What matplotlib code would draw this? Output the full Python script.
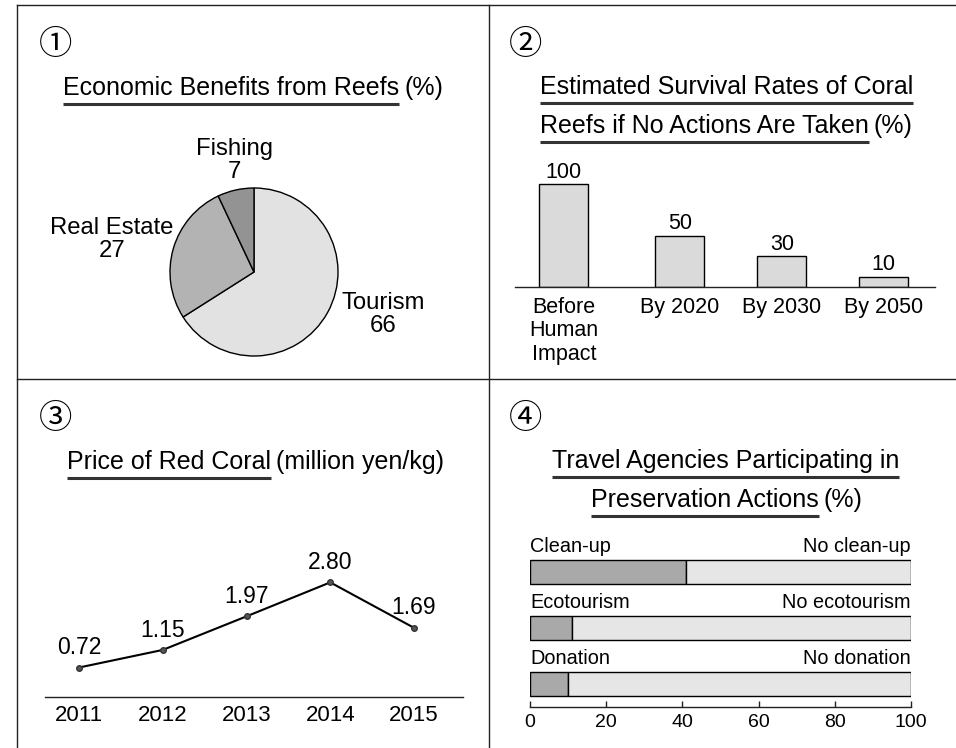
import matplotlib
matplotlib.use('Agg')
import matplotlib.pyplot as plt

plt.rcParams['font.family'] = ['Liberation Sans', 'DejaVu Sans']

# ① 산호초의 경제적 이익 (%)
pie_labels = ['Tourism', 'Real Estate', 'Fishing']
pie_values = [66, 27, 7]

# ② 산호초 생존율 추정 (%)
survival_labels = ['Before\nHuman\nImpact', 'By 2020', 'By 2030', 'By 2050']
survival_values = [100, 50, 30, 10]

# ③ 붉은 산호 가격 (million yen/kg)
years = [2011, 2012, 2013, 2014, 2015]
prices = [0.72, 1.15, 1.97, 2.80, 1.69]

# ④ 보존 활동 참여 여행사 (%)
actions = ['Clean-up', 'Ecotourism', 'Donation']
no_actions = ['No clean-up', 'No ecotourism', 'No donation']
participating = [41, 11, 10]

W, H = 956, 748
LINE = '#222222'
TITLE_SIZE = 18


def px_axes(fig, left, top, width, height):
    # 픽셀 좌표(위에서부터)로 축 생성
    ax = fig.add_axes([left / W, 1 - (top + height) / H, width / W, height / H])
    ax.set_facecolor('none')
    return ax


def title_line(fig, bg, x, baseline, main, suffix=''):
    t = bg.text(x, baseline, main, fontsize=TITLE_SIZE, ha='left', va='baseline')
    renderer = fig.canvas.get_renderer()
    bb = t.get_window_extent(renderer)
    x1 = bg.transData.inverted().transform((bb.x1, bb.y0))[0]
    bg.plot([x, x1], [baseline + 9, baseline + 9], color='#333333',
            lw=2.2, solid_capstyle='butt')
    if suffix:
        bg.text(x1 + 5, baseline, suffix, fontsize=TITLE_SIZE, ha='left', va='baseline')


def only_bottom(ax):
    for side in ['top', 'left', 'right']:
        ax.spines[side].set_visible(False)
    ax.spines['bottom'].set_color(LINE)
    ax.spines['bottom'].set_linewidth(1)
    ax.set_yticks([])


def draw_frame(fig):
    bg = fig.add_axes([0, 0, 1, 1])
    bg.set_xlim(0, W)
    bg.set_ylim(H, 0)
    bg.axis('off')
    kw = dict(color=LINE, lw=1)
    bg.plot([17, W], [5, 5], **kw)
    bg.plot([17, 17], [5, H], **kw)
    bg.plot([489.5, 489.5], [5, H], **kw)
    bg.plot([17, W], [379, 379], **kw)
    for sym, x, y in [('①', 56, 44), ('②', 526, 44), ('③', 56, 418), ('④', 526, 418)]:
        bg.text(x, y, sym, fontsize=24, family=['Noto Sans CJK JP', 'DejaVu Sans'],
                ha='center', va='center')
    return bg


def draw_pie(fig, bg):
    title_line(fig, bg, 63, 95, 'Economic Benefits from Reefs', '(%)')
    ax = px_axes(fig, 254 - 90, 272 - 90, 180, 180)
    ax.pie(pie_values, startangle=90, counterclock=False,
           colors=['#e2e2e2', '#b3b3b3', '#939393'],
           wedgeprops=dict(edgecolor='black', linewidth=1))
    lim = 90 / 84
    ax.set_xlim(-lim, lim)
    ax.set_ylim(-lim, lim)
    ax.set_aspect('equal')
    label_pos = [(1.54, -0.51), (-1.69, 0.39), (-0.23, 1.33)]
    for name, val, (lx, ly) in zip(pie_labels, pie_values, label_pos):
        ax.text(lx, ly, f'{name}\n{val}', ha='center', va='center',
                fontsize=17.2, linespacing=1.05)


def draw_bars(fig, bg):
    title_line(fig, bg, 540, 94, 'Estimated Survival Rates of Coral')
    title_line(fig, bg, 540, 133, 'Reefs if No Actions Are Taken', '(%)')
    ax = px_axes(fig, 515, 177, 420, 110)
    pos = [0, 1.137, 2.137, 3.137]
    bars = ax.bar(pos, survival_values, width=0.48, color='#dadada',
                  edgecolor='black', linewidth=1)
    ax.bar_label(bars, padding=1, fontsize=15.5)
    ax.set_xlim(-0.48, 3.64)
    ax.set_ylim(0, 110 / 1.03)
    only_bottom(ax)
    ax.set_xticks(pos, survival_labels, fontsize=15.5)
    ax.tick_params(axis='x', length=0, pad=7)
    for lbl in ax.get_xticklabels():
        lbl.set_linespacing(1.15)


def draw_line(fig, bg):
    title_line(fig, bg, 67, 469, 'Price of Red Coral', '(million yen/kg)')
    ax = px_axes(fig, 45, 557, 418, 140)
    ax.plot(years, prices, color='black', lw=1.5, marker='o', markersize=4,
            markerfacecolor='#555555', markeredgecolor='#333333')
    for x, v in zip(years, prices):
        ax.annotate(f'{v:.2f}', (x, v), xytext=(0, 6), textcoords='offset points',
                    ha='center', va='bottom', fontsize=16.5)
    ax.set_xlim(2010.594, 2015.585)
    ax.set_ylim(0, 3.42)
    only_bottom(ax)
    ax.set_xticks(years, [str(y) for y in years], fontsize=16)
    ax.tick_params(axis='x', length=0, pad=6)


def draw_hbars(fig, bg):
    title_line(fig, bg, 552, 468, 'Travel Agencies Participating in')
    title_line(fig, bg, 591, 507, 'Preservation Actions', '(%)')
    ax = px_axes(fig, 530, 530, 381, 177)
    rows = list(range(len(actions)))
    rest = [100 - v for v in participating]
    ax.barh(rows, participating, height=0.43, color='#a9a9a9',
            edgecolor='black', linewidth=1)
    ax.barh(rows, rest, left=participating, height=0.43, color='#e6e6e6',
            edgecolor='black', linewidth=1)
    for i in rows:
        ax.text(0, i - 0.46, actions[i], ha='left', va='center', fontsize=14.3)
        ax.text(100, i - 0.46, no_actions[i], ha='right', va='center', fontsize=14.3)
    ax.set_xlim(0, 100)
    ax.set_ylim(2.41, -0.75)
    only_bottom(ax)
    ax.set_xticks(range(0, 101, 20))
    ax.tick_params(axis='x', direction='in', length=4, width=1, color=LINE,
                   labelsize=14, pad=5)


def main():
    fig = plt.figure(figsize=(W / 100, H / 100), dpi=100)
    bg = draw_frame(fig)
    draw_pie(fig, bg)
    draw_bars(fig, bg)
    draw_line(fig, bg)
    draw_hbars(fig, bg)
    fig.savefig('out.png', dpi=100, facecolor='white')
    plt.close(fig)


if __name__ == '__main__':
    main()
